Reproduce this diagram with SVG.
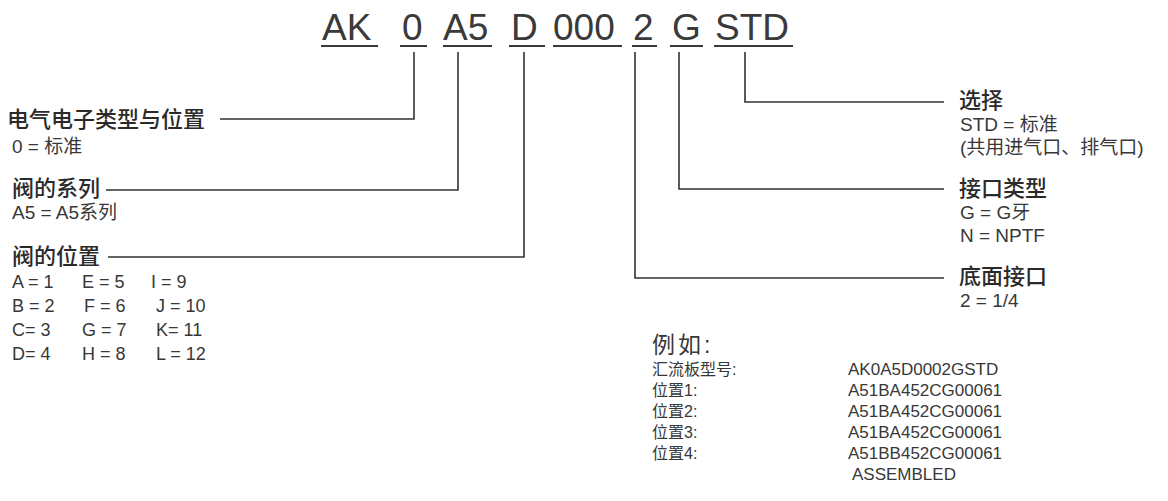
<svg xmlns="http://www.w3.org/2000/svg" width="1168" height="501" viewBox="0 0 1168 501">
<style>
text{font-family:"Liberation Sans","Noto Sans CJK SC",sans-serif;fill:#383838}
.t{font-size:37px;fill:#3a3a3a}
.h{font-size:22px;font-weight:500;fill:#2a2a2a}
.s{font-size:19px}
.r{font-size:18px}
.e{font-size:16px}
.x{font-size:17px}
.u{stroke:#3a3a3a;stroke-width:2;fill:none}
.c{stroke:#333;stroke-width:1.6;fill:none}
</style>
<rect width="1168" height="501" fill="#ffffff"/>
<g id="title">
<text class="t" x="322" y="40">AK</text>
<text class="t" x="402" y="40">0</text>
<text class="t" x="443" y="40">A5</text>
<text class="t" x="511" y="40">D</text>
<text class="t" x="553" y="40">000</text>
<text class="t" x="633" y="40">2</text>
<text class="t" x="672" y="40">G</text>
<text class="t" x="715" y="40">STD</text>
<path class="u" d="M321 46H378M400 46H427M443 46H492M509 46H545M553 46H622M632 46H657M670 46H703M714 46H793"/>
</g>
<g id="connectors">
<path class="c" d="M414 52V119H220"/>
<path class="c" d="M458 52V190H106"/>
<path class="c" d="M524 52V257H108"/>
<path class="c" d="M635 52V278H944"/>
<path class="c" d="M679 52V189H944"/>
<path class="c" d="M745 52V102H944"/>
</g>
<g id="node-electrical">
<text class="h" x="7" y="127">电气电子类型与位置</text>
<text class="s" x="12" y="153">0 = 标准</text>
</g>
<g id="node-series">
<text class="h" x="12" y="196">阀的系列</text>
<text class="s" x="12" y="219">A5 = A5系列</text>
</g>
<g id="node-position">
<text class="h" x="12" y="264">阀的位置</text>
<text class="r" x="12" y="288">A = 1</text><text class="r" x="82" y="288">E = 5</text><text class="r" x="151" y="288">I =  9</text>
<text class="r" x="12" y="312">B = 2</text><text class="r" x="84" y="312">F = 6</text><text class="r" x="156" y="312">J = 10</text>
<text class="r" x="12" y="336">C= 3</text><text class="r" x="82" y="336">G = 7</text><text class="r" x="156" y="336">K= 11</text>
<text class="r" x="12" y="360">D= 4</text><text class="r" x="82" y="360">H = 8</text><text class="r" x="156" y="360">L = 12</text>
</g>
<g id="node-option">
<text class="h" x="959" y="108">选择</text>
<text class="s" x="960" y="131">STD = 标准</text>
<text class="s" x="960" y="154">(共用进气口、排气口)</text>
</g>
<g id="node-port-type">
<text class="h" x="959" y="196">接口类型</text>
<text class="s" x="960" y="219">G = G牙</text>
<text class="s" x="960" y="242">N = NPTF</text>
</g>
<g id="node-bottom-port">
<text class="h" x="959" y="284">底面接口</text>
<text class="s" x="960" y="307">2 = 1/4</text>
</g>
<g id="example">
<text x="652" y="353" style="font-size:23px;letter-spacing:3px">例如:</text>
<text class="e" x="652" y="375">汇流板型号:</text>
<text class="e" x="652" y="396">位置1:</text>
<text class="e" x="652" y="417">位置2:</text>
<text class="e" x="652" y="438">位置3:</text>
<text class="e" x="652" y="459">位置4:</text>
<text class="x" x="848" y="375">AK0A5D0002GSTD</text>
<text class="x" x="848" y="396">A51BA452CG00061</text>
<text class="x" x="848" y="417">A51BA452CG00061</text>
<text class="x" x="848" y="438">A51BA452CG00061</text>
<text class="x" x="848" y="459">A51BB452CG00061</text>
<text class="x" x="852" y="480">ASSEMBLED</text>
</g>
</svg>
